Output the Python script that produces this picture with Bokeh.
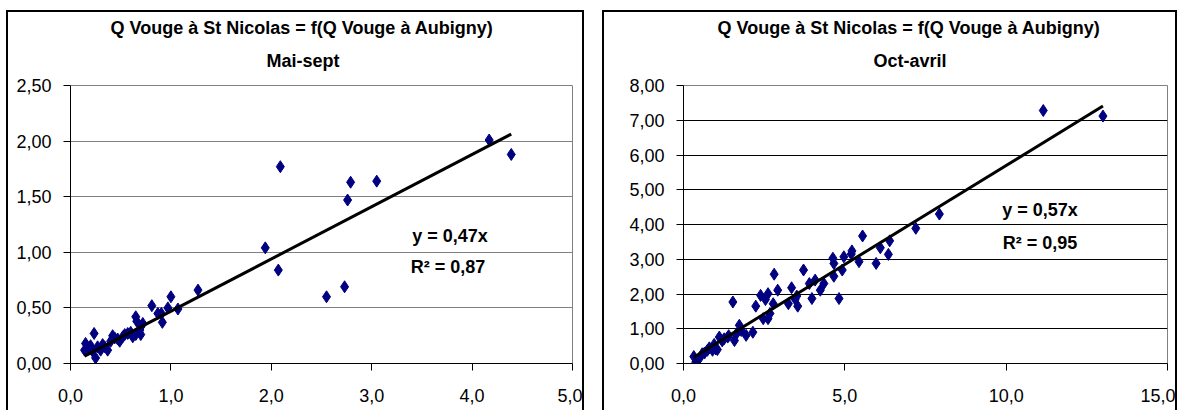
from bokeh.plotting import figure
from bokeh.layouts import row
from bokeh.models import Range1d, FixedTicker, Label, Title, CustomJSTickFormatter
from bokeh.embed import file_html
from bokeh.resources import INLINE

# ---------------- data ----------------
title_main = "Q Vouge à St Nicolas = f(Q Vouge à Aubigny)"

# Mai-sept (x = Q Vouge à Aubigny, y = Q Vouge à St Nicolas)
ms_title = "Mai-sept"
ms_x = [2.09, 2.79, 2.76, 3.05, 4.17, 4.39,
        1.94, 2.07, 2.55, 2.73,
        1.27, 1.00, 0.81, 1.07, 0.97, 0.905, 0.87, 0.915,
        0.65, 0.70, 0.69, 0.65, 0.62, 0.70, 0.57, 0.54, 0.49, 0.44, 0.40,
        0.34, 0.30, 0.235, 0.15, 0.18, 0.14, 0.25, 0.27, 0.22, 0.37, 0.52,
        0.60, 0.66, 0.72, 0.47, 0.42, 0.32, 0.20]
ms_y = [1.77, 1.63, 1.47, 1.64, 2.01, 1.88,
        1.04, 0.84, 0.60, 0.69,
        0.66, 0.60, 0.52, 0.49, 0.50, 0.45, 0.45, 0.37,
        0.42, 0.33, 0.30, 0.26, 0.24, 0.26, 0.27, 0.26, 0.20, 0.23, 0.20,
        0.15, 0.12, 0.27, 0.18, 0.14, 0.12, 0.05, 0.15, 0.11, 0.12, 0.24,
        0.28, 0.38, 0.36, 0.22, 0.25, 0.17, 0.16]
ms_slope = 0.47
ms_eq = "y = 0,47x"
ms_r2 = "R² = 0,87"
ms_xticks = [0, 1, 2, 3, 4, 5]
ms_xlabels = ["0,0", "1,0", "2,0", "3,0", "4,0", "5,0"]
ms_yticks = [0, 0.5, 1.0, 1.5, 2.0, 2.5]
ms_ylabels = ["0,00", "0,50", "1,00", "1,50", "2,00", "2,50"]

# Oct-avril
oa_title = "Oct-avril"
oa_x = [11.15, 13.0,
        0.32, 0.38, 0.48, 0.58, 0.74, 0.90, 1.00, 1.11, 1.05, 1.26, 1.37, 1.53,
        1.58, 1.63, 1.73, 1.79, 1.94, 2.15, 2.24, 2.39, 2.47, 2.62, 2.68, 2.54,
        2.62, 2.81, 2.78, 2.92, 3.25, 3.35, 3.46, 3.51, 3.54, 3.72, 3.90, 3.98,
        4.08, 4.24, 4.35, 4.63, 4.66, 4.66, 4.82, 4.92, 4.97, 5.20, 5.22, 5.44,
        5.55, 5.97, 6.10, 6.39, 6.35, 7.20, 7.93,
        0.65, 0.80, 0.95, 1.20, 1.40]
oa_y = [7.28, 7.12,
        0.20, 0.04, 0.13, 0.28, 0.38, 0.38, 0.42, 0.76, 0.40, 0.71, 0.76, 1.77,
        0.66, 0.84, 1.10, 0.95, 0.81, 0.90, 1.65, 1.96, 1.29, 1.29, 1.44, 1.84,
        2.01, 2.57, 1.72, 2.11, 1.72, 2.18, 1.85, 1.94, 1.65, 2.69, 2.30, 1.87,
        2.40, 2.11, 2.30, 3.03, 2.88, 2.51, 1.87, 2.69, 3.07, 3.15, 3.24, 2.93,
        3.67, 2.88, 3.33, 3.53, 3.14, 3.89, 4.30,
        0.30, 0.45, 0.55, 0.65, 0.80]
oa_slope = 0.57
oa_eq = "y = 0,57x"
oa_r2 = "R² = 0,95"
oa_xticks = [0, 5, 10, 15]
oa_xlabels = ["0,0", "5,0", "10,0", "15,0"]
oa_yticks = [0, 1, 2, 3, 4, 5, 6, 7, 8]
oa_ylabels = ["0,00", "1,00", "2,00", "3,00", "4,00", "5,00", "6,00", "7,00", "8,00"]

FONT = "Liberation Sans"
NAVY = "#000080"


def fmt(tick_values, tick_labels):
    return CustomJSTickFormatter(
        args=dict(tv=tick_values, tl=tick_labels),
        code="const i = tv.findIndex(t => Math.abs(t - tick) < 1e-9); return i >= 0 ? tl[i] : '';")


def make_chart(sub, xs, ys, slope, eq, r2, xticks, xlabels, yticks, ylabels,
               grid_color, width, mb_left, mb_right, mb_top, mb_bottom,
               main_off, sub_off, eq_pos, r2_pos, margin):
    p = figure(width=width, height=400,
               x_range=Range1d(xticks[0], xticks[-1]),
               y_range=Range1d(yticks[0], yticks[-1]),
               output_backend="svg", toolbar_location=None,
               min_border_left=mb_left, min_border_right=mb_right,
               min_border_top=mb_top, min_border_bottom=mb_bottom,
               background_fill_color="white", border_fill_color="white")
    p.outline_line_color = "#808080"
    p.outline_line_width = 1
    p.xgrid.visible = False
    p.ygrid.grid_line_color = grid_color
    p.ygrid.grid_line_width = 1
    p.ygrid.ticker = FixedTicker(ticks=yticks)

    for ax, tv, tl, standoff in ((p.xaxis[0], xticks, xlabels, 18),
                                 (p.yaxis[0], yticks, ylabels, 12)):
        ax.ticker = FixedTicker(ticks=tv)
        ax.formatter = fmt(tv, tl)
        ax.axis_line_color = "black"
        ax.axis_line_width = 1
        ax.major_tick_line_color = "black"
        ax.major_tick_out = 7
        ax.major_tick_in = 0
        ax.minor_tick_line_color = None
        ax.major_label_text_font = FONT
        ax.major_label_text_font_size = "18px"
        ax.major_label_text_color = "black"
        ax.major_label_standoff = standoff

    p.scatter(xs, ys, marker="diamond", size=12, fill_color=NAVY, line_color=NAVY)
    x0, x1 = min(xs), max(xs)
    p.line([x0, x1], [slope * x0, slope * x1], line_color="black", line_width=3)

    # titles: first added sits nearest to the frame
    p.add_layout(Title(text=sub, align="left", offset=sub_off, standoff=26,
                       vertical_align="top",
                       text_font=FONT, text_font_size="18px", text_font_style="bold",
                       text_color="black"), "above")
    p.add_layout(Title(text=title_main, align="left", offset=main_off, standoff=0,
                       vertical_align="bottom",
                       text_font=FONT, text_font_size="18px", text_font_style="bold",
                       text_color="black"), "above")

    for txt, (xx, yy) in ((eq, eq_pos), (r2, r2_pos)):
        p.add_layout(Label(x=xx, y=yy, text=txt, text_align="center",
                           text_baseline="middle", text_font=FONT,
                           text_font_size="18px", text_font_style="bold",
                           text_color="black"))
    p.margin = margin
    p.styles = {"border-top": "2px solid black", "border-left": "2px solid black",
                "border-right": "2px solid black"}
    return p


p1 = make_chart(ms_title, ms_x, ms_y, ms_slope, ms_eq, ms_r2,
                ms_xticks, ms_xlabels, ms_yticks, ms_ylabels, "#808080",
                578, 62, 14, 72, 48, 40, 196, (3.78, 1.15), (3.76, 0.87), (10, 0, 0, 6))
p2 = make_chart(oa_title, oa_x, oa_y, oa_slope, oa_eq, oa_r2,
                oa_xticks, oa_xlabels, oa_yticks, oa_ylabels, "#000000",
                575, 79, 12, 73, 49, 34, 190, (11.05, 4.43), (11.05, 3.48), (10, 0, 0, 18))

layout = row(p1, p2)
open("out.html", "w").write(file_html(layout, INLINE))
